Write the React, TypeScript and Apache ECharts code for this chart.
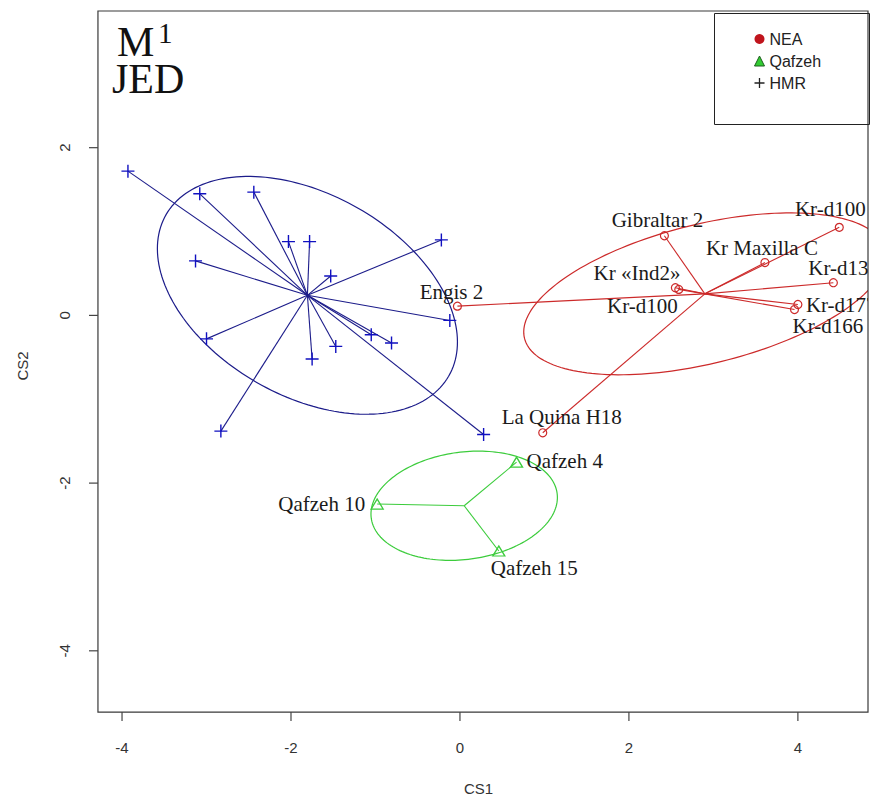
import React, { useEffect, useRef } from "react";
import * as echarts from "echarts";

// ---- axes ----
const xTicks = [-4, -2, 0, 2, 4];
const yTicks = [-4, -2, 0, 2];
const xBox = [-4.285, 4.83]; // plot frame extent
const yBox = [-4.73, 3.63];
const xAxisRange = [-4.391, 4.83]; // axis extent incl. the tick strip
const yAxisRange = [-4.837, 3.63];

// ---- HMR (blue +) ----
const hmrX = [-3.93, -3.08, -2.44, -2.03, -1.78, -3.13, -1.53, -0.22, -0.12, -3.0, -1.05, -0.81, -1.47, -1.75, -2.83, 0.28];
const hmrY = [1.72, 1.45, 1.47, 0.88, 0.88, 0.65, 0.47, 0.9, -0.06, -0.28, -0.23, -0.33, -0.37, -0.52, -1.38, -1.42];

// ---- NEA (red o) ----
const neaNames = ["Engis 2", "Gibraltar 2", "Kr-d100", "Kr Maxilla C", "Kr-d136", "Kr «Ind2»", "Kr-d100", "Kr-d177", "Kr-d166", "La Quina H18"];
const neaX = [-0.03, 2.42, 4.49, 3.61, 4.42, 2.55, 2.59, 4.0, 3.96, 0.98];
const neaY = [0.11, 0.95, 1.05, 0.63, 0.39, 0.33, 0.31, 0.13, 0.07, -1.4];

// ---- Qafzeh (green triangle) ----
const qafNames = ["Qafzeh 4", "Qafzeh 10", "Qafzeh 15"];
const qafX = [0.67, -0.98, 0.46];
const qafY = [-1.75, -2.25, -2.81];

// ellipse: semi-major, semi-minor, angle (deg)
const hmrEllipse = [1.93, 1.2, -30];
const neaEllipse = [2.2, 0.83, 14];
const qafEllipse = [1.11, 0.64, 7.7];

// ---- styles (label offsets in px: dx, dy, align) ----
const neaLabelStyle: [number, number, string][] = [
  [-6, -14, "center"],
  [-7, -16, "center"],
  [-9, -18, "center"],
  [-3, -15, "center"],
  [-25, -15, "left"],
  [5, -15, "right"],
  [-1, 17, "right"],
  [8, 1, "left"],
  [-2, 16, "left"],
  [19, -16, "center"],
];
const qafLabelStyle: [number, number, string][] = [
  [10, -1, "left"],
  [-12, 0, "right"],
  [-8, 17, "left"],
];

const BLUE_LINE = "#1c1c8a";
const BLUE_PT = "#1010c0";
const RED = "#cc2a2a";
const GREEN = "#3ccc3c";
const FRAME = "#3a3a3a";
const TICK_W = 1.2;
const SERIF = "'Liberation Serif', 'Times New Roman', serif";
const SANS = "'Liberation Sans', Arial, sans-serif";

const mean = (a: number[]) => a.reduce((s, v) => s + v, 0) / a.length;

function ellipseSeries(name: string, cx: number, cy: number, p: number[], color: string) {
  return {
    name,
    type: "custom",
    clip: true,
    silent: true,
    z: 1,
    data: [[cx, cy]],
    renderItem: (_params: any, api: any) => {
      const [a, b, deg] = p;
      const th = (deg * Math.PI) / 180;
      const pts: number[][] = [];
      for (let i = 0; i <= 180; i++) {
        const t = (i / 180) * Math.PI * 2;
        const dx = a * Math.cos(t) * Math.cos(th) - b * Math.sin(t) * Math.sin(th);
        const dy = a * Math.cos(t) * Math.sin(th) + b * Math.sin(t) * Math.cos(th);
        pts.push(api.coord([cx + dx, cy + dy]));
      }
      return { type: "polyline", shape: { points: pts }, style: { stroke: color, fill: "none", lineWidth: 1.2 } };
    },
  };
}

function spokeSeries(name: string, xs: number[], ys: number[], color: string) {
  const cx = mean(xs);
  const cy = mean(ys);
  return {
    name,
    type: "custom",
    clip: true,
    silent: true,
    z: 2,
    data: xs.map((x, i) => [x, ys[i]]),
    renderItem: (_params: any, api: any) => {
      const c = api.coord([cx, cy]);
      const p = api.coord([api.value(0), api.value(1)]);
      return { type: "line", shape: { x1: c[0], y1: c[1], x2: p[0], y2: p[1] }, style: { stroke: color, lineWidth: 1.1 } };
    },
  };
}

function labelSeries(name: string, xs: number[], ys: number[], names: string[], st: [number, number, string][]) {
  return {
    name,
    type: "custom",
    clip: true,
    silent: true,
    z: 5,
    data: xs.map((x, i) => [x, ys[i], i]),
    renderItem: (_params: any, api: any) => {
      const i = api.value(2);
      const p = api.coord([api.value(0), api.value(1)]);
      const [dx, dy, align] = st[i];
      return {
        type: "text",
        x: p[0] + dx,
        y: p[1] + dy,
        style: {
          text: names[i],
          fill: "#1a1a1a",
          font: `21px ${SERIF}`,
          align,
          verticalAlign: "middle",
        },
      };
    },
  };
}

const frameSeries = {
  name: "frame",
  type: "custom",
  clip: false,
  silent: true,
  z: 4,
  data: [[xBox[0], yBox[0]]],
  renderItem: (_params: any, api: any) => {
    const tl = api.coord([xBox[0], yBox[1]]);
    const br = api.coord([xBox[1], yBox[0]]);
    return {
      type: "rect",
      shape: { x: tl[0], y: tl[1], width: br[0] - tl[0], height: br[1] - tl[1] },
      style: { fill: "none", stroke: FRAME, lineWidth: 1.2 },
    };
  },
};

const xTickSeries = {
  name: "x-ticks",
  type: "custom",
  clip: false,
  silent: true,
  z: 4,
  data: xTicks.map((v) => [v, yBox[0]]),
  renderItem: (_params: any, api: any) => {
    const v = api.value(0);
    const a = api.coord([v, yBox[0]]);
    const b = api.coord([v, yAxisRange[0]]);
    return {
      type: "rect",
      shape: { x: a[0] - TICK_W / 2, y: a[1], width: TICK_W, height: b[1] - a[1] },
      style: { fill: "#444", stroke: "none" },
    };
  },
};

const yTickSeries = {
  name: "y-ticks",
  type: "custom",
  clip: false,
  silent: true,
  z: 4,
  data: yTicks.map((v) => [xBox[0], v]),
  renderItem: (_params: any, api: any) => {
    const v = api.value(1);
    const a = api.coord([xAxisRange[0], v]);
    const b = api.coord([xBox[0], v]);
    return {
      type: "rect",
      shape: { x: a[0], y: a[1] - TICK_W / 2, width: b[0] - a[0], height: TICK_W },
      style: { fill: "#444", stroke: "none" },
    };
  },
};

export default function App() {
  const ref = useRef<HTMLDivElement>(null);
  useEffect(() => {
    if (!ref.current) return;
    const chart = echarts.init(ref.current, undefined, { renderer: "svg" });
    const hmrC = [mean(hmrX), mean(hmrY)];
    const neaC = [mean(neaX), mean(neaY)];
    const qafC = [mean(qafX), mean(qafY)];
    const plus = "path://M5,0L5,10M0,5L10,5";
    chart.setOption({
      animation: false,
      backgroundColor: "#ffffff",
      grid: {
        left: 89,
        top: 11,
        right: 6,
        bottom: 77,
        show: false,
        containLabel: false,
        outerBoundsMode: "none",
      },
      xAxis: {
        type: "value",
        position: "bottom",
        min: xAxisRange[0],
        max: xAxisRange[1],
        name: "CS1",
        nameLocation: "middle",
        nameGap: 60,
        nameTextStyle: { fontFamily: SANS, fontSize: 15, color: "#333" },
        splitLine: { show: false },
        axisLine: { show: false, onZero: false },
        axisTick: { show: false },
        axisLabel: { customValues: xTicks, margin: 19, fontFamily: SANS, fontSize: 15, color: "#333" },
      },
      yAxis: {
        type: "value",
        position: "left",
        min: yAxisRange[0],
        max: yAxisRange[1],
        name: "CS2",
        nameLocation: "middle",
        nameGap: 59,
        nameRotate: 90,
        nameTextStyle: { fontFamily: SANS, fontSize: 15, color: "#333" },
        splitLine: { show: false },
        axisLine: { show: false, onZero: false },
        axisTick: { show: false },
        axisLabel: { customValues: yTicks, rotate: 90, margin: 17, fontFamily: SANS, fontSize: 15, color: "#333" },
      },
      legend: {
        orient: "vertical",
        left: 752,
        top: 31,
        padding: 0,
        itemWidth: 10,
        itemHeight: 10,
        itemGap: 6,
        selectedMode: false,
        textStyle: { fontFamily: SANS, fontSize: 16, lineHeight: 16, color: "#222" },
        data: [
          { name: "NEA", icon: "circle", itemStyle: { color: "#c0141c", borderWidth: 0 } },
          { name: "Qafzeh", icon: "triangle", itemStyle: { color: "#33cc33", borderColor: "#1d5e1d", borderWidth: 1 } },
          { name: "HMR", icon: plus, itemStyle: { color: "none", borderColor: "#222", borderWidth: 1.3 } },
        ],
      },
      graphic: [
        { type: "rect", left: 712, top: 11, shape: { width: 155, height: 111 }, style: { fill: "none", stroke: "#222", lineWidth: 1 }, z: 10 },
        { type: "text", x: 117, y: 42, style: { text: "M", font: `42px ${SERIF}`, lineHeight: 34, fill: "#111", verticalAlign: "middle" }, z: 10 },
        { type: "text", x: 158, y: 33, style: { text: "1", font: `29px ${SERIF}`, lineHeight: 22, fill: "#111", verticalAlign: "middle" }, z: 10 },
        { type: "text", x: 112, y: 79, style: { text: "JED", font: `42px ${SERIF}`, lineHeight: 34, fill: "#111", verticalAlign: "middle" }, z: 10 },
      ],
      series: [
        frameSeries,
        xTickSeries,
        yTickSeries,
        ellipseSeries("hmr-ellipse", hmrC[0], hmrC[1], hmrEllipse, BLUE_LINE),
        ellipseSeries("nea-ellipse", neaC[0], neaC[1], neaEllipse, RED),
        ellipseSeries("qaf-ellipse", qafC[0], qafC[1], qafEllipse, GREEN),
        spokeSeries("hmr-spokes", hmrX, hmrY, BLUE_LINE),
        spokeSeries("nea-spokes", neaX, neaY, RED),
        spokeSeries("qaf-spokes", qafX, qafY, GREEN),
        {
          name: "HMR",
          type: "scatter",
          symbol: plus,
          symbolSize: 13,
          z: 3,
          itemStyle: { color: "none", borderColor: BLUE_PT, borderWidth: 1.4, opacity: 1 },
          data: hmrX.map((x, i) => [x, hmrY[i]]),
        },
        {
          name: "NEA",
          type: "scatter",
          symbol: "circle",
          symbolSize: 8,
          z: 3,
          itemStyle: { color: "rgba(255,255,255,0)", borderColor: RED, borderWidth: 1.2, opacity: 1 },
          data: neaX.map((x, i) => [x, neaY[i]]),
        },
        {
          name: "Qafzeh",
          type: "scatter",
          symbol: "triangle",
          symbolSize: [12, 10],
          z: 3,
          itemStyle: { color: "rgba(255,255,255,0)", borderColor: GREEN, borderWidth: 1.3, opacity: 1 },
          data: qafX.map((x, i) => [x, qafY[i]]),
        },
        labelSeries("nea-labels", neaX, neaY, neaNames, neaLabelStyle),
        labelSeries("qaf-labels", qafX, qafY, qafNames, qafLabelStyle),
      ],
    });
    return () => chart.dispose();
  }, []);
  return <div ref={ref} style={{ position: "absolute", left: 0, top: 0, width: 874, height: 798 }} />;
}
